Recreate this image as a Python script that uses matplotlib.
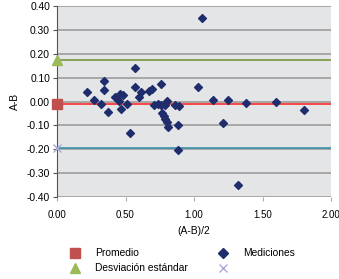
import matplotlib.pyplot as plt
from matplotlib.lines import Line2D

plt.rcParams['font.family'] = ['Liberation Sans', 'DejaVu Sans']

# Bland-Altman data
media = [0.22, 0.27, 0.32, 0.34, 0.34, 0.37, 0.42, 0.45, 0.46, 0.48, 0.47,
         0.51, 0.53, 0.57, 0.57, 0.61, 0.60, 0.67, 0.69, 0.71, 0.74, 0.76,
         0.76, 0.79, 0.80, 0.77, 0.78, 0.79, 0.80, 0.81, 0.86, 0.89, 0.88,
         0.88, 1.03, 1.06, 1.14, 1.21, 1.25, 1.32, 1.38, 1.60, 1.80]
diferencia = [0.041, 0.007, -0.010, 0.086, 0.050, -0.045, 0.018, 0.004, 0.030,
              0.028, -0.032, -0.011, -0.132, 0.139, 0.059, 0.040, 0.020, 0.046,
              0.053, -0.014, -0.011, 0.073, -0.014, -0.014, 0.003, -0.050,
              -0.062, -0.074, -0.085, -0.108, -0.015, -0.017, -0.100, -0.204,
              0.060, 0.351, 0.007, -0.089, 0.008, -0.348, -0.006, 0.000, -0.034]
promedio = -0.01
limite_sup = 0.175
limite_inf = -0.195

fig = plt.figure(figsize=(3.39, 2.79), dpi=100)
ax = fig.add_axes([57/339, 1 - 197/279, 274/339, 191/279])
ax.set_facecolor('#e4e5e7')

ax.set_xlim(0, 2)
ax.set_ylim(-0.4, 0.4)
ax.set_yticks([0.4, 0.3, 0.2, 0.1, 0.0, -0.1, -0.2, -0.3, -0.4])
ax.set_xticks([0, 0.5, 1.0, 1.5, 2.0])
ax.yaxis.set_major_formatter(plt.FormatStrFormatter('%.2f'))
ax.xaxis.set_major_formatter(plt.FormatStrFormatter('%.2f'))
ax.grid(axis='y', color='#9c9c9c', linewidth=1.2, zorder=0)
ax.set_axisbelow(True)
for s in ['top', 'right', 'bottom']:
    ax.spines[s].set_visible(False)
ax.spines['left'].set_color('#555555')
ax.tick_params(axis='y', labelsize=7.4, length=3, color='#555555', pad=2)
ax.tick_params(axis='x', labelsize=7, length=3, color='#aaaaaa', pad=6)

ax.axhline(limite_sup, color='#77933c', linewidth=1.2, zorder=2)
ax.axhline(promedio, color='#ff2a2a', linewidth=1.2, zorder=2)
ax.axhline(limite_inf, color='#3a8fa8', linewidth=1.2, zorder=2)

ax.scatter(media, diferencia, marker='D', s=16, color='#1f2d6d', zorder=4)
ax.plot([0], [promedio], marker='s', markersize=7, color='#c0504d',
        linestyle='none', clip_on=False, zorder=5)
ax.plot([0], [limite_sup], marker='^', markersize=7, color='#9bbb59',
        linestyle='none', clip_on=False, zorder=5)
ax.plot([0], [limite_inf], marker='x', markersize=6, color='#a9a9d9',
        linestyle='none', clip_on=False, zorder=5)

ax.set_xlabel('(A-B)/2', fontsize=7.4, labelpad=5)
ax.set_ylabel('A-B', fontsize=7.4, labelpad=5)

handles = [Line2D([], [], marker='s', color='#c0504d', linestyle='none', markersize=7),
           Line2D([], [], marker='^', color='#9bbb59', linestyle='none', markersize=7),
           Line2D([], [], marker='D', color='#1f2d6d', linestyle='none', markersize=5),
           Line2D([], [], marker='x', color='#a9a9d9', linestyle='none', markersize=6)]
labels = ['Promedio', 'Desviación estándar', 'Mediciones', '']
fig.legend(handles, labels, ncol=2, loc='upper left',
           bbox_to_anchor=(55/339, 1 - 239/279), frameon=False, fontsize=7.4,
           columnspacing=2.4, handletextpad=1.0, labelspacing=0.5)

fig.savefig('out.png', dpi=100)
